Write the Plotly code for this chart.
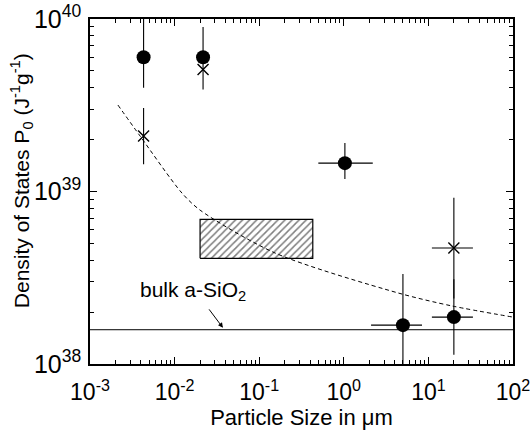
import numpy as np
import plotly.graph_objects as go

# Filled circles: measured density of states P0 vs particle size
circ_size = [4.3e-3, 0.0217, 1.03, 5.0, 20.0]
circ_p0 = [6.0e39, 6.0e39, 1.46e39, 1.68e38, 1.87e38]
circ_p0_hi = [1.2e40, 9.0e39, 1.91e39, 3.33e38, 3.1e38]
circ_p0_lo = [4.0e39, 3.9e39, 1.18e39, 0.8e38, 1.13e38]
circ_size_lo = [4.3e-3, 0.0217, 0.50, 2.1, 11.0]
circ_size_hi = [4.3e-3, 0.0217, 2.2, 8.4, 33.6]

# Crosses: second data set
cross_size = [4.3e-3, 0.0217, 20.0]
cross_p0 = [2.1e39, 5.1e39, 4.7e38]
cross_p0_hi = [3.05e39, 5.1e39, 9.2e38]
cross_p0_lo = [1.44e39, 5.1e39, 2.4e38]
cross_size_lo = [4.3e-3, 0.0217, 11.0]
cross_size_hi = [4.3e-3, 0.0217, 33.6]

# Dashed model curve
curve_size = [2.14e-3, 3.9e-3, 1.22e-2, 2.0e-2, 0.154, 4.4, 19.0, 100.0]
curve_p0 = [3.17e39, 2.10e39, 9.8e38, 7.8e38, 4.4e38, 2.58e38, 2.17e38, 1.87e38]

# Hatched range box
box_size = [0.02, 0.43]
box_p0 = [4.1e38, 6.9e38]

# Bulk a-SiO2 level
bulk_p0 = 1.58e38
axis_size = [1e-3, 1e2]

x_ticks = [1e-3, 1e-2, 1e-1, 1e0, 1e1, 1e2]
x_ticktext = ["10<sup>-3</sup>", "10<sup>-2</sup>", "10<sup>-1</sup>",
              "10<sup>0</sup>", "10<sup>1</sup>", "10<sup>2</sup>"]
y_ticks = [1e38, 1e39, 1e40]
y_ticktext = ["10<sup>38</sup>", "10<sup>39</sup>", "10<sup>40</sup>"]

FONT = "Liberation Sans, Arial, Helvetica, sans-serif"


def errs(v, lo, hi):
    v, lo, hi = np.array(v), np.array(lo), np.array(hi)
    return hi - v, v - lo


fig = go.Figure()

# hatched box
fig.add_trace(go.Scatter(
    x=[box_size[0], box_size[1], box_size[1], box_size[0], box_size[0]],
    y=[box_p0[0], box_p0[0], box_p0[1], box_p0[1], box_p0[0]],
    mode="lines", fill="toself",
    fillpattern=dict(shape="/", fgcolor="black", bgcolor="rgba(0,0,0,0)",
                     size=5, solidity=0.3),
    fillcolor="rgba(0,0,0,0)",
    line=dict(color="black", width=1.2), showlegend=False, hoverinfo="skip"))

# bulk line
fig.add_trace(go.Scatter(
    x=axis_size, y=[bulk_p0, bulk_p0], mode="lines",
    line=dict(color="black", width=1), showlegend=False))

# dashed curve
fig.add_trace(go.Scatter(
    x=curve_size, y=curve_p0, mode="lines",
    line=dict(color="black", width=1, dash="4px,3px", shape="spline", smoothing=0.8),
    showlegend=False))

ey_hi, ey_lo = errs(circ_p0, circ_p0_lo, circ_p0_hi)
ex_hi, ex_lo = errs(circ_size, circ_size_lo, circ_size_hi)
fig.add_trace(go.Scatter(
    x=circ_size, y=circ_p0, mode="markers",
    marker=dict(symbol="circle", size=14, color="black"),
    error_y=dict(type="data", symmetric=False, array=ey_hi, arrayminus=ey_lo,
                 color="black", thickness=1.1, width=0),
    error_x=dict(type="data", symmetric=False, array=ex_hi, arrayminus=ex_lo,
                 color="black", thickness=1.1, width=0),
    showlegend=False))

ey_hi, ey_lo = errs(cross_p0, cross_p0_lo, cross_p0_hi)
ex_hi, ex_lo = errs(cross_size, cross_size_lo, cross_size_hi)
fig.add_trace(go.Scatter(
    x=cross_size, y=cross_p0, mode="markers",
    marker=dict(symbol="x-thin", size=11, line=dict(color="black", width=1.4)),
    error_y=dict(type="data", symmetric=False, array=ey_hi, arrayminus=ey_lo,
                 color="black", thickness=1.1, width=0),
    error_x=dict(type="data", symmetric=False, array=ex_hi, arrayminus=ex_lo,
                 color="black", thickness=1.1, width=0),
    showlegend=False))

minor_x = [d * 10.0 ** k for k in range(-3, 2) for d in range(2, 10)]
minor_y = [d * 10.0 ** k for k in range(38, 40) for d in range(2, 10)]

fig.update_xaxes(
    type="log", range=[-3, 2], tickvals=x_ticks, ticktext=x_ticktext,
    ticks="inside", ticklen=7, tickwidth=1, tickcolor="black",
    showline=True, linecolor="black", linewidth=1.5, mirror="ticks",
    showgrid=False, zeroline=False, ticklabelstandoff=7, automargin=False,
    ticklabeloverflow="allow",
    tickfont=dict(family=FONT, size=23, color="black"),
    minor=dict(tickvals=minor_x, ticks="inside", ticklen=4, tickcolor="black",
               showgrid=False),
    title=dict(text="Particle Size in \u03bcm",
               font=dict(family=FONT, size=22, color="black"), standoff=4))
fig.update_yaxes(
    type="log", range=[38, 40], tickvals=y_ticks, ticktext=y_ticktext,
    ticks="inside", ticklen=7, tickwidth=1, tickcolor="black",
    showline=True, linecolor="black", linewidth=1.5, mirror="ticks",
    showgrid=False, zeroline=False, ticklabelstandoff=2, automargin=False,
    ticklabeloverflow="allow",
    tickfont=dict(family=FONT, size=25, color="black"),
    minor=dict(tickvals=minor_y, ticks="inside", ticklen=4, tickcolor="black",
               showgrid=False))

fig.add_annotation(
    text="Density of States P<sub>0</sub> (J<sup>-1</sup>g<sup>-1</sup>)",
    xref="paper", yref="paper", x=-0.163, y=0.53, textangle=-90,
    showarrow=False, xanchor="center", yanchor="middle",
    font=dict(family=FONT, size=21, color="black"))

fig.add_annotation(
    text="bulk a-SiO<sub>2</sub>", x=np.log10(0.0165), y=np.log10(2.65e38),
    showarrow=False, font=dict(family=FONT, size=21, color="black"))
fig.add_annotation(
    text="", x=np.log10(0.0373), y=np.log10(1.62e38), ax=-15, ay=-20,
    showarrow=True, arrowhead=2, arrowsize=1, arrowwidth=1, arrowcolor="black")

fig.update_layout(
    width=530, height=439, margin=dict(l=90, r=17, t=19, b=75),
    paper_bgcolor="white", plot_bgcolor="white",
    font=dict(family=FONT, color="black"))

fig.write_html("out.html")
